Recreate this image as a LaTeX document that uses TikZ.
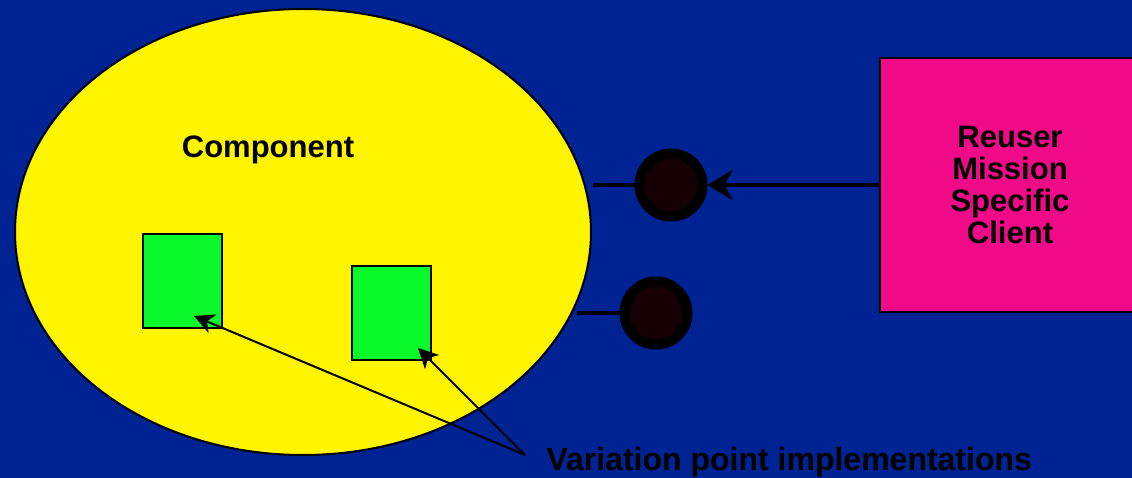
\documentclass[tikz,border=0pt]{standalone}
\usepackage{fontspec}
\setmainfont{Liberation Sans}
\usetikzlibrary{shapes.geometric,arrows.meta}
\definecolor{bgblue}{RGB}{0,35,148}
\definecolor{compyellow}{RGB}{255,245,0}
\definecolor{vpgreen}{RGB}{8,250,42}
\definecolor{clientpink}{RGB}{240,10,135}
\definecolor{portdark}{RGB}{20,0,5}
\tikzset{
  vpbox/.style={draw=black, line width=2pt, fill=vpgreen, minimum width=79pt, minimum height=94pt, inner sep=0pt, outer sep=0pt},
  port/.style={circle, draw=black, line width=10pt, fill=portdark, minimum size=63pt, inner sep=0pt},
  wire/.style={line width=4pt, draw=black},
  pointer/.style={line width=2pt, -{Stealth[length=20pt,width=20pt,inset=6pt]}},
  bigtext/.style={font=\bfseries\fontsize{31}{32}\selectfont, text=black}
}
\begin{document}
\begin{tikzpicture}[x=1pt,y=-1pt]
\useasboundingbox (0,0) rectangle (1132,478);
\clip (0,0) rectangle (1132,478);
\fill[bgblue] (0,0) rectangle (1132,478);
% component
\node[ellipse, draw=black, line width=2pt, fill=compyellow, minimum width=576pt, minimum height=446pt, inner sep=0pt] (comp) at (303,232) {};
\node[bigtext, anchor=base] (complabel) at (268,158) {Component};
% variation points
\node[vpbox] (vp1) at (182.5,281) {};
\node[vpbox] (vp2) at (391.5,313) {};
% client
\node[draw=black, line width=2pt, fill=clientpink, minimum width=260pt, minimum height=254pt, inner sep=0pt] (client) at (1010,185) {};
\node[bigtext, align=center] (clientlabel) at (1010,185) {Reuser\\Mission\\Specific\\Client};
% ports
\node[port] (p1) at (671,185) {};
\node[port] (p2) at (656,313) {};
\coordinate (w1) at (593,185);
\coordinate (w2) at (577,313);
\draw[wire] (w1) -- (p1.west);
\draw[wire] (w2) -- (p2.west);
\draw[wire, -{Stealth[length=25pt,width=30pt,inset=8pt]}] (client.west) -- (p1.east);
% label and pointers
\node[font=\bfseries\fontsize{32}{34}\selectfont, anchor=base west] (vplabel) at (543,470) {Variation point implementations};
\coordinate (fork) at (525,455);
\coordinate (t1) at (194,316);
\coordinate (t2) at (418,348);
\draw[pointer] (fork) -- (t1);
\draw[pointer] (fork) -- (t2);
\end{tikzpicture}
\end{document}
